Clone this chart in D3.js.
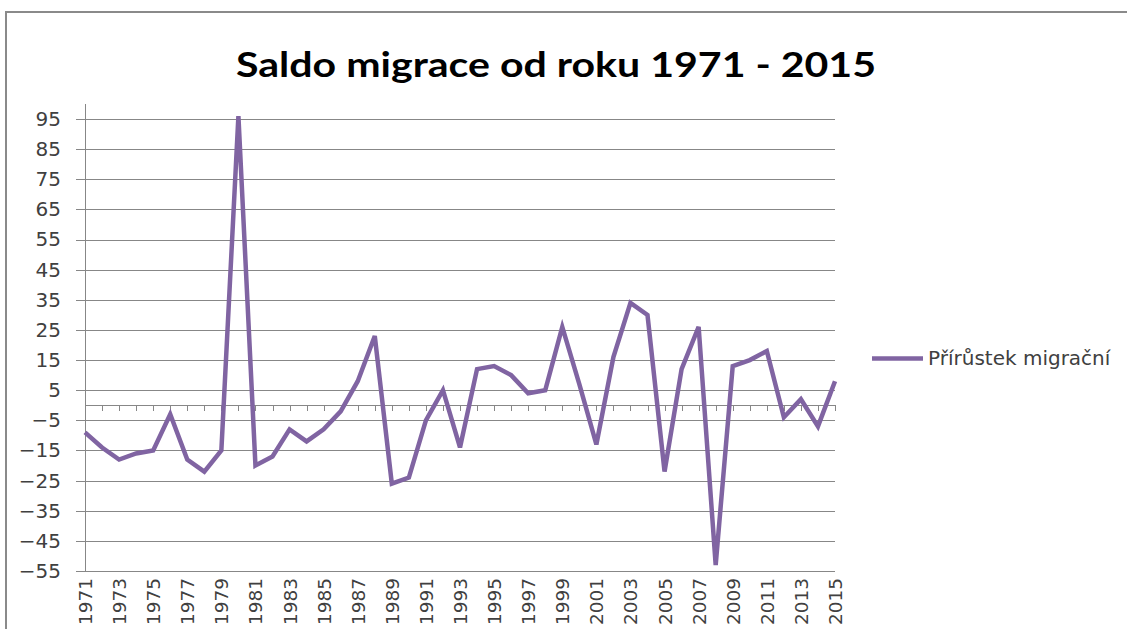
<!DOCTYPE html>
<html>
<head>
<meta charset="utf-8">
<script src="https://cdn.jsdelivr.net/npm/d3@7/dist/d3.min.js"></script>
<style>
  html, body { margin: 0; padding: 0; background: #fff; }
  svg { display: block; }
</style>
</head>
<body>
<svg id="chart" width="1127" height="629"></svg>
<script>
const title = "Saldo migrace od roku 1971 - 2015";
const seriesName = "Přírůstek migrační";
const years = [1971,1972,1973,1974,1975,1976,1977,1978,1979,1980,1981,1982,1983,1984,1985,1986,1987,1988,1989,1990,1991,1992,1993,1994,1995,1996,1997,1998,1999,2000,2001,2002,2003,2004,2005,2006,2007,2008,2009,2010,2011,2012,2013,2014,2015];
const values = [-9,-14,-18,-16,-15,-3,-18,-22,-15,96,-20,-17,-8,-12,-8,-2,8,23,-26,-24,-5,5,-14,12,13,10,4,5,26,7,-13,16,34,30,-22,12,26,-53,13,15,18,-4,2,-7,8];
const yTicks = [95,85,75,65,55,45,35,25,15,5,-5,-15,-25,-35,-45,-55];
const xLabelYears = years.filter((d, i) => i % 2 === 0);

const svg = d3.select("#chart");
const plotLeft = 85, plotRight = 835, plotTop = 104, plotBottom = 571;
const purple = "#8064A2", gridCol = "#878787", textCol = "#404040";

// frame
svg.append("rect").attr("x", 6).attr("y", 12).attr("width", 1200).attr("height", 700)
  .attr("fill", "none").attr("stroke", "#8a8a8a").attr("stroke-width", 2);

const x = d3.scalePoint().domain(years).range([plotLeft, plotRight]);
const y = d3.scaleLinear().domain([-55, 100]).range([plotBottom, plotTop]);

// gridlines + y axis
const yAxis = d3.axisLeft(y).tickValues(yTicks).tickSize(-(plotRight - plotLeft)).tickPadding(24).tickFormat(d3.format("d"));
const gy = svg.append("g").attr("transform", `translate(${plotLeft},0)`).call(yAxis);
gy.select(".domain").remove();
gy.selectAll(".tick line").attr("stroke", gridCol).attr("stroke-width", 1).attr("x1", -9).attr("shape-rendering", "crispEdges");
gy.selectAll(".tick text").attr("fill", textCol).style("font-family", "DejaVu Sans").style("font-size", "20px");

// vertical axis line
svg.append("line").attr("x1", plotLeft).attr("x2", plotLeft).attr("y1", plotTop).attr("y2", plotBottom)
  .attr("stroke", gridCol).attr("stroke-width", 1).attr("shape-rendering", "crispEdges");

// zero axis with ticks
const zeroAxis = d3.axisBottom(x).tickValues(years).tickSize(6).tickFormat("");
const gz = svg.append("g").attr("transform", `translate(0,${Math.round(y(0))})`).call(zeroAxis);
gz.select(".domain").attr("stroke", gridCol).attr("d", `M${plotLeft},0H${plotRight}`).attr("shape-rendering", "crispEdges");
gz.selectAll(".tick line").attr("stroke", gridCol).attr("shape-rendering", "crispEdges");
gz.selectAll(".tick").filter(d => d === years[0]).remove();

// bottom labels
const xAxis = d3.axisBottom(x).tickValues(xLabelYears).tickSize(0).tickPadding(0);
const gx = svg.append("g").attr("transform", `translate(0,${plotBottom})`).call(xAxis);
gx.select(".domain").remove();
gx.selectAll(".tick text")
  .attr("fill", textCol).style("font-family", "DejaVu Sans").style("font-size", "18.5px")
  .attr("text-anchor", "end").attr("dy", "0.35em")
  .attr("transform", "translate(0,7) rotate(-90)")
  .attr("x", 0).attr("y", 0);

// line
const line = d3.line().x((d, i) => x(years[i])).y(d => y(d));
svg.append("path").datum(values).attr("d", line)
  .attr("fill", "none").attr("stroke", purple).attr("stroke-width", 4.5).attr("stroke-linejoin", "miter");

// title
svg.append("text").attr("x", 556).attr("y", 77).attr("text-anchor", "middle")
  .style("font-family", "Lato").style("font-weight", "bold").style("font-size", "35px")
  .attr("textLength", 640).attr("lengthAdjust", "spacingAndGlyphs")
  .attr("fill", "#000").text(title);

// legend
svg.append("line").attr("x1", 872).attr("x2", 923).attr("y1", 358.5).attr("y2", 358.5)
  .attr("stroke", purple).attr("stroke-width", 4.5);
svg.append("text").attr("x", 928).attr("y", 365).attr("fill", textCol)
  .style("font-family", "DejaVu Sans").style("font-size", "20px").text(seriesName);
</script>
</body>
</html>
